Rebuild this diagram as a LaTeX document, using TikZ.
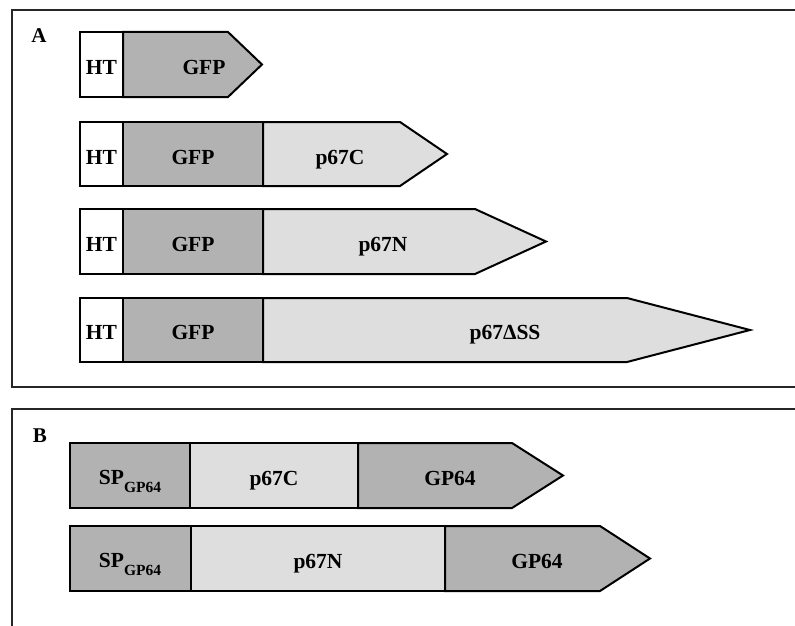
\documentclass[tikz,border=0pt]{standalone}
\usepackage{fontspec}
\setmainfont{Liberation Serif}
\newcommand{\subgp}{\raisebox{-8pt}{\fontsize{15.5}{17}\selectfont GP64}}
\begin{document}
\begin{tikzpicture}[x=1pt,y=-1pt,
  seg/.style={draw=black,line width=2pt,line join=miter},
  dark/.style={seg,fill=gray!60},
  light/.style={seg,fill=gray!26},
  blank/.style={seg,fill=white},
  frame/.style={draw=black!85,line width=2pt},
  lbl/.style={font=\fontsize{21.5}{24}\selectfont\bfseries,inner sep=0pt,anchor=base},
  panel/.style={font=\fontsize{21}{24}\selectfont\bfseries,inner sep=0pt,anchor=base}]
\useasboundingbox (0,0) rectangle (795,626);

% panel frames (open on the right)
\draw[frame] (800,10) -- (12,10) -- (12,387) -- (800,387);
\draw[frame] (800,409) -- (12,409) -- (12,630);
\node[panel] (labA) at (39,43) {A};
\node[panel] (labB) at (40,442) {B};

% ---- panel A ----
% row 1
\draw[dark]  (123,32) -- (228,32) -- (262,64.5) -- (228,97) -- (123,97) -- cycle;
\draw[blank] (80,32) rectangle (123,97);
\node[lbl] (ht1) at (101.5,74.5) {HT};
\node[lbl] (gfp1) at (204,74.5) {GFP};

% row 2
\draw[light] (263,122) -- (400,122) -- (447,154) -- (400,186) -- (263,186) -- cycle;
\draw[dark]  (123,122) rectangle (263,186);
\draw[blank] (80,122) rectangle (123,186);
\node[lbl] (ht2) at (101.5,164) {HT};
\node[lbl] (gfp2) at (193,164) {GFP};
\node[lbl] (p67c) at (340,164) {p67C};

% row 3
\draw[light] (263,209) -- (475,209) -- (546,241.5) -- (475,274) -- (263,274) -- cycle;
\draw[dark]  (123,209) rectangle (263,274);
\draw[blank] (80,209) rectangle (123,274);
\node[lbl] (ht3) at (101.5,251) {HT};
\node[lbl] (gfp3) at (193,251) {GFP};
\node[lbl] (p67n) at (383,251) {p67N};

% row 4
\draw[light] (263,298) -- (627,298) -- (750,330) -- (627,362) -- (263,362) -- cycle;
\draw[dark]  (123,298) rectangle (263,362);
\draw[blank] (80,298) rectangle (123,362);
\node[lbl] (ht4) at (101.5,339.5) {HT};
\node[lbl] (gfp4) at (193,339.5) {GFP};
\node[lbl] (p67dss) at (505,339.5) {p67ΔSS};

% ---- panel B ----
% row 1
\draw[dark]  (358,443) -- (512,443) -- (563,475.5) -- (512,508) -- (358,508) -- cycle;
\draw[light] (190,443) rectangle (358,508);
\draw[dark]  (70,443) rectangle (190,508);
\node[lbl] (sp1) at (130,484) {SP\subgp};
\node[lbl] (bc) at (274,485.5) {p67C};
\node[lbl] (gp1) at (450,485.5) {GP64};

% row 2
\draw[dark]  (445,526) -- (600,526) -- (650,558.5) -- (600,591) -- (445,591) -- cycle;
\draw[light] (191,526) rectangle (445,591);
\draw[dark]  (70,526) rectangle (191,591);
\node[lbl] (sp2) at (130,567) {SP\subgp};
\node[lbl] (bn) at (318,568.5) {p67N};
\node[lbl] (gp2) at (537,568.5) {GP64};
\end{tikzpicture}
\end{document}
